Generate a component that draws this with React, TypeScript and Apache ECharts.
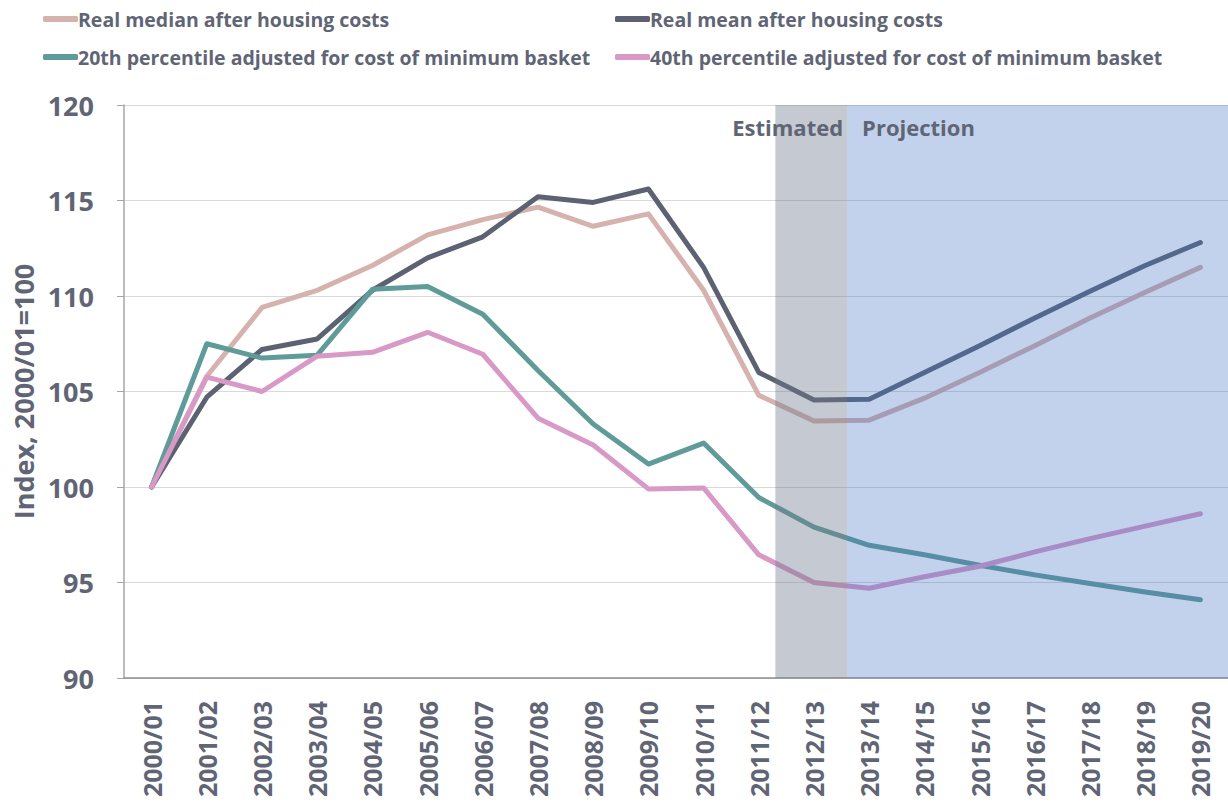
import React, { useEffect, useRef } from "react";
import * as echarts from "echarts";

const categories = [
  "2000/01", "2001/02", "2002/03", "2003/04", "2004/05", "2005/06", "2006/07",
  "2007/08", "2008/09", "2009/10", "2010/11", "2011/12", "2012/13", "2013/14",
  "2014/15", "2015/16", "2016/17", "2017/18", "2018/19", "2019/20",
];

const realMedian = [
  100, 105.8, 109.4, 110.3, 111.6, 113.2, 114.0, 114.65, 113.65, 114.3,
  110.3, 104.8, 103.45, 103.5, 104.65, 106.0, 107.4, 108.85, 110.2, 111.5,
];
const realMean = [
  100, 104.7, 107.2, 107.75, 110.3, 112.0, 113.1, 115.2, 114.9, 115.6,
  111.5, 106.0, 104.55, 104.6, 106.0, 107.4, 108.85, 110.25, 111.6, 112.8,
];
const p20 = [
  100, 107.5, 106.75, 106.9, 110.35, 110.5, 109.05, 106.1, 103.3, 101.2,
  102.3, 99.45, 97.9, 96.95, 96.45, 95.9, 95.4, 94.95, 94.5, 94.1,
];
const p40 = [
  100, 105.75, 105.0, 106.85, 107.05, 108.1, 106.95, 103.6, 102.2, 99.9,
  99.95, 96.45, 95.0, 94.7, 95.3, 95.85, 96.6, 97.3, 97.95, 98.6,
];

const seriesNames = [
  "Real median after housing costs",
  "Real mean after housing costs",
  "20th percentile adjusted for cost of minimum basket",
  "40th percentile adjusted for cost of minimum basket",
];
const seriesColors = ["#d5b2ad", "#5c6272", "#5f9b98", "#d899c6"];

// shaded periods on a continuous position scale (category index units)
const estimatedRange = [11.8, 13.1];
const projectionRange = [13.1, 20];

const FONT = "Open Sans";
const TEXT = "#5f6575";

export default function App() {
  const ref = useRef<HTMLDivElement>(null);
  useEffect(() => {
    if (!ref.current) return;
    const chart = echarts.init(ref.current, undefined, { renderer: "svg" });
    const values = [realMedian, realMean, p20, p40];
    const legendPos = [
      { left: 43, top: 9 },
      { left: 615, top: 9 },
      { left: 43, top: 47 },
      { left: 615, top: 47 },
    ];
    chart.setOption({
      animation: false,
      textStyle: { fontFamily: FONT },
      legend: seriesNames.map((n, i) => ({
        data: [n],
        left: legendPos[i].left,
        top: legendPos[i].top,
        icon: "roundRect",
        itemWidth: 35,
        itemHeight: 6,
        padding: 0,
        textStyle: {
          fontFamily: FONT,
          fontWeight: "bold",
          fontSize: 19.5,
          color: TEXT,
          padding: [0, 0, 0, -5],
        },
      })),
      grid: { left: 124, right: 0, top: 105, bottom: 129 },
      xAxis: [
        {
          type: "category",
          data: categories,
          boundaryGap: true,
          axisLine: { show: true, lineStyle: { color: "#8c8c8c", width: 1.5 } },
          axisTick: { show: false },
          axisLabel: {
            rotate: 90,
            margin: 23,
            fontFamily: FONT,
            fontWeight: "bold",
            fontSize: 25,
            color: TEXT,
          },
        },
        { type: "value", min: 0, max: 20, show: false },
      ],
      yAxis: {
        type: "value",
        min: 90,
        max: 120,
        interval: 5,
        name: "Index, 2000/01=100",
        nameLocation: "middle",
        nameGap: 86,
        nameTextStyle: {
          fontFamily: FONT,
          fontWeight: "bold",
          fontSize: 27,
          color: TEXT,
        },
        axisLine: { show: true, lineStyle: { color: "#a6a6a6", width: 1.5 } },
        axisTick: { show: true, length: 7, lineStyle: { color: "#a6a6a6" } },
        axisLabel: {
          margin: 30,
          fontFamily: FONT,
          fontWeight: "bold",
          fontSize: 27,
          color: TEXT,
        },
        splitLine: { lineStyle: { color: "#d9d9d9", width: 1 } },
      },
      series: [
        ...seriesNames.map((n, i) => ({
          name: n,
          type: "line",
          data: values[i],
          symbol: "none",
          color: seriesColors[i],
          lineStyle: { width: 5, color: seriesColors[i], cap: "round", join: "round" },
          z: 2,
        })),
        {
          name: "periods",
          type: "line",
          xAxisIndex: 1,
          yAxisIndex: 0,
          data: [],
          z: 10,
          silent: true,
          markArea: {
            silent: true,
            z: 10,
            data: [
              [
                {
                  xAxis: estimatedRange[0],
                  itemStyle: { color: "rgba(110,120,140,0.4)" },
                  label: {
                    show: true,
                    formatter: "Estimated",
                    position: "insideTopRight",
                    distance: 11,
                    offset: [7, 0],
                    fontFamily: FONT,
                    fontWeight: "bold",
                    fontSize: 22,
                    color: TEXT,
                  },
                },
                { xAxis: estimatedRange[1] },
              ],
              [
                {
                  xAxis: projectionRange[0],
                  itemStyle: { color: "rgba(68,114,196,0.32)" },
                  label: {
                    show: true,
                    formatter: "Projection",
                    position: "insideTopLeft",
                    distance: 11,
                    offset: [4, 0],
                    fontFamily: FONT,
                    fontWeight: "bold",
                    fontSize: 22,
                    color: TEXT,
                  },
                },
                { xAxis: projectionRange[1] },
              ],
            ],
          },
        },
      ],
    });
    return () => chart.dispose();
  }, []);
  return (
    <div
      ref={ref}
      style={{ position: "absolute", left: 0, top: 0, width: 1228, height: 807 }}
    />
  );
}
